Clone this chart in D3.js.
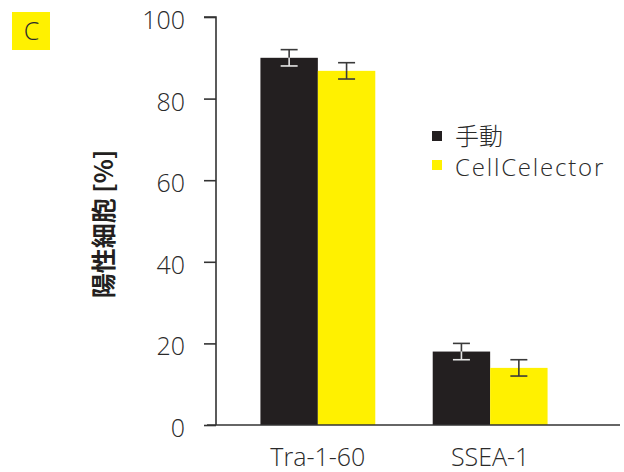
<!DOCTYPE html>
<html>
<head>
<meta charset="utf-8">
<script src="https://cdn.jsdelivr.net/npm/d3@7"></script>
<style>
  body { margin: 0; background: #fff; }
  svg { display: block; }
</style>
</head>
<body>
<svg id="chart" width="624" height="472"></svg>
<script>
// Marker categories and series
const categories = ["Tra-1-60", "SSEA-1"];
const seriesNames = ["手動", "CellCelector"];
const manualValues = [90, 18];
const manualErrors = [2, 2];
const cellCelectorValues = [86.8, 14];
const cellCelectorErrors = [2, 2];
const yTicks = [0, 20, 40, 60, 80, 100];
const seriesColors = ["#231f20", "#fff100"];

const svg = d3.select("#chart");
const margin = { left: 216, right: 4, top: 17, bottom: 47 };
const width = 624, height = 472;
const latin = "'Open Sans', 'Noto Sans', sans-serif";
const cjk = "'Noto Sans CJK JP', sans-serif";
const textColor = "#2a2a2a";

function label(sel, size, family, weight) {
  return sel.style("font-family", family || latin)
    .style("font-size", size + "px")
    .style("font-weight", weight || 300)
    .style("fill", textColor);
}

const y = d3.scaleLinear().domain([0, 100]).range([height - margin.bottom, margin.top]);
const x0 = d3.scaleBand().domain(categories).range([203, 605]).paddingInner(1 / 3).paddingOuter(1 / 3);
const x1 = d3.scaleBand().domain(seriesNames).range([0, x0.bandwidth()]);

const series = [
  { name: seriesNames[0], values: manualValues, errors: manualErrors, color: seriesColors[0] },
  { name: seriesNames[1], values: cellCelectorValues, errors: cellCelectorErrors, color: seriesColors[1] }
];

// Panel tag
svg.append("rect").attr("x", 12).attr("y", 12).attr("width", 38).attr("height", 38).attr("fill", seriesColors[1]);
label(svg.append("text").attr("x", 31.5).attr("y", 39.5).attr("text-anchor", "middle"), 25).text("C");

// Bars
categories.forEach((cat, i) => {
  series.forEach(s => {
    svg.append("rect")
      .attr("x", x0(cat) + x1(s.name))
      .attr("y", y(s.values[i]))
      .attr("width", x1.bandwidth())
      .attr("height", y(0) - y(s.values[i]))
      .attr("fill", s.color);
  });
});

// Error bars: part over a dark bar is drawn light
categories.forEach((cat, i) => {
  series.forEach(s => {
    const cx = x0(cat) + x1(s.name) + x1.bandwidth() / 2;
    const v = s.values[i], e = s.errors[i];
    const inner = s.color === seriesColors[0] ? "#e6e6e6" : "#3a3a3a";
    const g = svg.append("g").attr("stroke-width", 1.6);
    g.append("line").attr("x1", cx).attr("x2", cx).attr("y1", y(v + e)).attr("y2", y(v)).attr("stroke", "#3a3a3a");
    g.append("line").attr("x1", cx - 8.5).attr("x2", cx + 8.5).attr("y1", y(v + e)).attr("y2", y(v + e)).attr("stroke", "#3a3a3a");
    g.append("line").attr("x1", cx).attr("x2", cx).attr("y1", y(v)).attr("y2", y(v - e)).attr("stroke", inner);
    g.append("line").attr("x1", cx - 8.5).attr("x2", cx + 8.5).attr("y1", y(v - e)).attr("y2", y(v - e)).attr("stroke", inner);
  });
});

// Y axis
const yAxis = svg.append("g").attr("transform", `translate(${margin.left},0)`)
  .call(d3.axisLeft(y).tickValues(yTicks).tickSize(12).tickPadding(19));
yAxis.select(".domain").attr("stroke", "#333").attr("stroke-width", 1.6).attr("d", `M-12,${y(100)}H0V${y(0)}`);
yAxis.selectAll(".tick line").attr("stroke", "#333").attr("stroke-width", 1.6);
label(yAxis.selectAll(".tick text"), 25).attr("y", 3.5);

// X baseline and category labels
svg.append("line").attr("x1", 207).attr("x2", 620).attr("y1", y(0)).attr("y2", y(0))
  .attr("stroke", "#333").attr("stroke-width", 1.6);
categories.forEach(cat => {
  label(svg.append("text").attr("x", x0(cat) + x0.bandwidth() / 2).attr("y", 466)
    .attr("text-anchor", "middle"), 25).text(cat);
});

// Y title
label(svg.append("text")
  .attr("transform", `translate(113,224) rotate(-90)`)
  .attr("text-anchor", "middle"), 25, cjk, 700)
  .style("fill", "#231f20")
  .text("陽性細胞 [%]");

// Legend
const legend = svg.append("g");
series.forEach((s, i) => {
  legend.append("rect").attr("x", 432).attr("y", 131 + i * 29).attr("width", 10).attr("height", 10).attr("fill", s.color);
  const t = label(legend.append("text").attr("x", 455).attr("y", i === 0 ? 145 : 176),
    24, i === 0 ? cjk : latin).text(s.name);
  if (i === 1) t.style("letter-spacing", "1.8px");
});
</script>
</body>
</html>
